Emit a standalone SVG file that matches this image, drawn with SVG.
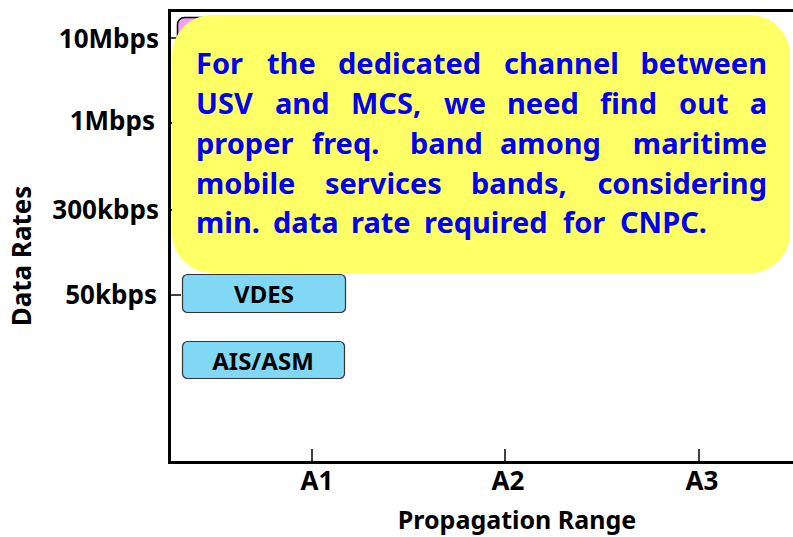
<svg xmlns="http://www.w3.org/2000/svg" width="793" height="537" viewBox="0 0 793 537">
  <style>
    .axis { stroke: #000; stroke-width: 3; fill: none; }
    .tick { stroke: #000; stroke-width: 1.5; }
    .lbl { font-family: "Noto Sans", "Open Sans", sans-serif; font-weight: bold; font-size: 26px; fill: #000; }
    .ylbl { text-anchor: end; }
    .xlbl { text-anchor: middle; }
    .box { fill: #80D8F4; stroke: #333; stroke-width: 1.2; }
    .boxtxt { font-family: "Noto Sans", "Open Sans", sans-serif; font-weight: bold; font-size: 24px; fill: #000; text-anchor: middle; }
    .note { fill: #FFFF66; }
    .notetxt { font-family: "Noto Sans", "Open Sans", sans-serif; font-weight: bold; font-size: 29px; fill: #0000EE; }
    .last { text-anchor: end; }
  </style>

  <rect width="793" height="537" fill="#fff"/>

  <!-- chart frame and ticks -->
  <g id="axes">
    <path class="axis" d="M793 10.5 H169.5 V462.5 H793"/>
    <line class="tick" x1="170" y1="38" x2="181" y2="38"/>
    <line class="tick" x1="170" y1="123" x2="181" y2="123"/>
    <line class="tick" x1="170" y1="210" x2="181" y2="210"/>
    <line class="tick" x1="170" y1="295" x2="181" y2="295"/>
    <line class="tick" x1="312" y1="449" x2="312" y2="462"/>
    <line class="tick" x1="505" y1="449" x2="505" y2="462"/>
    <line class="tick" x1="699" y1="449" x2="699" y2="462"/>
  </g>

  <g id="y-labels">
    <text class="lbl ylbl" x="159" y="48">10Mbps</text>
    <text class="lbl ylbl" x="155" y="130">1Mbps</text>
    <text class="lbl ylbl" x="159" y="219">300kbps</text>
    <text class="lbl ylbl" x="157" y="304">50kbps</text>
    <text class="lbl xlbl" transform="translate(31 256) rotate(-90)">Data Rates</text>
  </g>

  <g id="x-labels">
    <text class="lbl xlbl" x="317" y="490">A1</text>
    <text class="lbl xlbl" x="508" y="490">A2</text>
    <text class="lbl xlbl" x="702" y="490">A3</text>
    <text class="lbl xlbl" x="517" y="529" style="font-size:25px">Propagation Range</text>
  </g>

  <!-- service bands -->
  <g id="band-top">
    <rect x="177.5" y="17.5" width="170" height="40" rx="7" fill="#F4A0F0" stroke="#000" stroke-width="1.5"/>
  </g>
  <g id="band-vdes">
    <rect class="box" x="182.5" y="274.5" width="163" height="38" rx="5"/>
    <text class="boxtxt" x="264" y="303">VDES</text>
  </g>
  <g id="band-ais">
    <rect class="box" x="182.5" y="341.5" width="162" height="37" rx="5"/>
    <text class="boxtxt" x="263" y="370">AIS/ASM</text>
  </g>

  <!-- callout note, justified word by word -->
  <g id="note">
    <rect class="note" x="172" y="15" width="618" height="258" rx="40"/>
    <text class="notetxt" y="74">
      <tspan x="196">For</tspan><tspan x="267">the</tspan><tspan x="338">dedicated</tspan><tspan x="504">channel</tspan>
    </text>
    <text class="notetxt last" x="767" y="74">between</text>
    <text class="notetxt" y="114">
      <tspan x="196">USV</tspan><tspan x="275">and</tspan><tspan x="351">MCS,</tspan><tspan x="444">we</tspan><tspan x="507">need</tspan><tspan x="600">find</tspan><tspan x="679">out</tspan>
    </text>
    <text class="notetxt last" x="767" y="114">a</text>
    <text class="notetxt" y="154">
      <tspan x="196">proper</tspan><tspan x="312">freq.</tspan><tspan x="410">band</tspan><tspan x="500">among</tspan>
    </text>
    <text class="notetxt last" x="767" y="154">maritime</text>
    <text class="notetxt" y="194">
      <tspan x="196">mobile</tspan><tspan x="325">services</tspan><tspan x="471">bands,</tspan>
    </text>
    <text class="notetxt last" x="767" y="194">considering</text>
    <text class="notetxt" y="233">
      <tspan x="196">min.</tspan><tspan x="273">data</tspan><tspan x="351">rate</tspan><tspan x="424">required</tspan><tspan x="563">for</tspan><tspan x="620">CNPC.</tspan>
    </text>
  </g>
</svg>
